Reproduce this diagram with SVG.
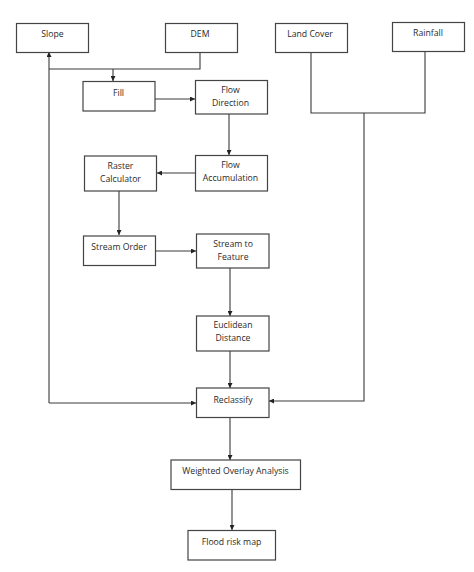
<svg xmlns="http://www.w3.org/2000/svg" width="474" height="572" viewBox="0 0 474 572">
<style>
.box{fill:#fff;stroke:#444;stroke-width:1.2}
.t{font-family:"Open Sans","Liberation Sans",sans-serif;font-size:8.7px;fill:#2a2a2a;text-anchor:middle}
.c{fill:none;stroke:#3a3a3a;stroke-width:1.1}
</style>
<defs>
<marker id="a" viewBox="0 0 10 10" refX="10" refY="5" markerWidth="5" markerHeight="5" orient="auto" markerUnits="userSpaceOnUse">
<path d="M0,0 L10,5 L0,10 z" fill="#222"/>
</marker>
</defs>
<rect width="474" height="572" fill="#fff"/>
<g id="connectors">
<path class="c" d="M200,52 V69 H49"/>
<path class="c" d="M113,69 V81" marker-end="url(#a)"/>
<path class="c" d="M49,403 V52" marker-end="url(#a)"/>
<path class="c" d="M49,403 H196" marker-end="url(#a)"/>
<path class="c" d="M155,99 H195" marker-end="url(#a)"/>
<path class="c" d="M229,114 V155" marker-end="url(#a)"/>
<path class="c" d="M195,173 H157" marker-end="url(#a)"/>
<path class="c" d="M119,191 V235" marker-end="url(#a)"/>
<path class="c" d="M155,251 H196" marker-end="url(#a)"/>
<path class="c" d="M230,268 V316" marker-end="url(#a)"/>
<path class="c" d="M230,351 V388" marker-end="url(#a)"/>
<path class="c" d="M311,52 V113 H425 V52"/>
<path class="c" d="M364,113 V401 H269" marker-end="url(#a)"/>
<path class="c" d="M230,417 V460" marker-end="url(#a)"/>
<path class="c" d="M232,489 V530" marker-end="url(#a)"/>
</g>
<g id="slope"><rect class="box" x="16.5" y="23.5" width="72" height="29"/><text class="t" x="52.5" y="37">Slope</text></g>
<g id="dem"><rect class="box" x="165.5" y="23.5" width="72" height="29"/><text class="t" x="200" y="37">DEM</text></g>
<g id="landcover"><rect class="box" x="275.5" y="23.5" width="72" height="29"/><text class="t" x="310" y="37">Land Cover</text></g>
<g id="rainfall"><rect class="box" x="392.5" y="22.5" width="72" height="29"/><text class="t" x="428" y="36">Rainfall</text></g>
<g id="fill"><rect class="box" x="83" y="81.5" width="72" height="29.5"/><text class="t" x="118.5" y="95.5">Fill</text></g>
<g id="flowdirection"><rect class="box" x="195.5" y="80.5" width="72" height="33.5"/><text class="t" x="230.5" y="93">Flow</text><text class="t" x="230.5" y="106">Direction</text></g>
<g id="rastercalculator"><rect class="box" x="84.5" y="156" width="72" height="35"/><text class="t" x="120.5" y="169">Raster</text><text class="t" x="120.5" y="182">Calculator</text></g>
<g id="flowaccumulation"><rect class="box" x="195.5" y="155.5" width="72" height="35.5"/><text class="t" x="230.5" y="168">Flow</text><text class="t" x="230.5" y="181">Accumulation</text></g>
<g id="streamorder"><rect class="box" x="83.5" y="236" width="72" height="29.5"/><text class="t" x="119" y="250">Stream Order</text></g>
<g id="streamtofeature"><rect class="box" x="196.5" y="234" width="72.5" height="34"/><text class="t" x="233" y="246.5">Stream to</text><text class="t" x="233" y="259.5">Feature</text></g>
<g id="euclideandistance"><rect class="box" x="196.5" y="316" width="72.5" height="35"/><text class="t" x="233" y="328">Euclidean</text><text class="t" x="233" y="341">Distance</text></g>
<g id="reclassify"><rect class="box" x="196.5" y="388" width="72.5" height="29.5"/><text class="t" x="233" y="403">Reclassify</text></g>
<g id="weightedoverlay"><rect class="box" x="171" y="460" width="129.5" height="29.5"/><text class="t" x="235.5" y="474">Weighted Overlay Analysis</text></g>
<g id="floodriskmap"><rect class="box" x="188" y="530.5" width="87.5" height="29.5"/><text class="t" x="231.5" y="545">Flood risk map</text></g>
</svg>
